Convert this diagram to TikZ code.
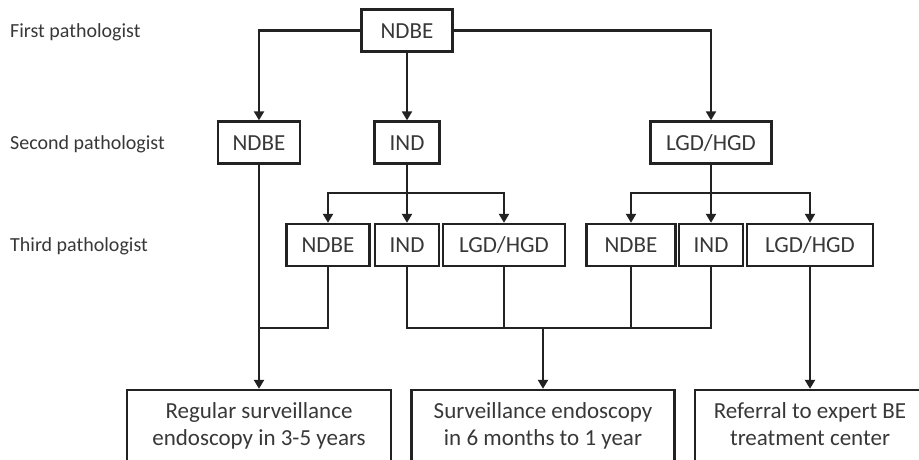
\documentclass[tikz,border=0pt]{standalone}
\usepackage{fontspec}
\setmainfont{Carlito}
\usetikzlibrary{arrows.meta}
\definecolor{txt}{HTML}{383838}
\definecolor{ln}{HTML}{222222}
\begin{document}
\begin{tikzpicture}[x=1pt,y=-1pt,
  box/.style={draw=ln, line width=2.4pt, inner sep=0pt, text=txt, font=\fontsize{23}{27}\selectfont, minimum height=42pt, text height=15pt, text depth=0pt},
  bigbox/.style={draw=ln, line width=2.4pt, inner sep=0pt, text=txt, font=\fontsize{23}{27}\selectfont, align=center, minimum height=74pt},
  lbl/.style={anchor=base west, inner sep=0pt, text=txt, font=\fontsize{20}{24}\selectfont},
  conn/.style={draw=ln, line width=2.2pt},
  arr/.style={conn, -{Triangle[length=9pt,width=10pt]}}]
\useasboundingbox (0,0) rectangle (919,459);
\clip (0,0) rectangle (919,459);
% row labels
\node[lbl] (l1) at (10,37) {First pathologist};
\node[lbl] (l2) at (10,149) {Second pathologist};
\node[lbl] (l3) at (10,251.5) {Third pathologist};
% first
\node[box, minimum width=91pt] (f) at (407,30.5) {NDBE};
% second
\node[box, minimum width=82pt] (sa) at (259,142.5) {NDBE};
\node[box, minimum width=65pt] (sb) at (407,142.5) {IND};
\node[box, minimum width=121pt] (sc) at (711,142.5) {LGD/HGD};
% third
\node[box, minimum width=83pt] (ta) at (328,245) {NDBE};
\node[box, minimum width=64pt] (tb) at (407,245) {IND};
\node[box, minimum width=122pt] (tc) at (504,245) {LGD/HGD};
\node[box, minimum width=89pt] (td) at (631,245) {NDBE};
\node[box, minimum width=64pt] (te) at (711,245) {IND};
\node[box, minimum width=126pt] (tf) at (810,245) {LGD/HGD};
% results
\node[bigbox, minimum width=264pt] (ra) at (259,427) {\strut Regular surveillance\\\strut endoscopy in 3-5 years};
\node[bigbox, minimum width=263pt] (rb) at (543,427) {\strut Surveillance endoscopy\\\strut in 6 months to 1 year};
\node[bigbox, minimum width=230pt] (rc) at (810,427) {\strut Referral to expert BE\\\strut treatment center};
% connectors first -> second
\draw[arr] (f.west) -| (sa.north);
\draw[arr] (f.south) -- (sb.north);
\draw[arr] (f.east) -| (sc.north);
% second -> third
\coordinate (j1) at (407,193);
\coordinate (j2) at (711,193);
\draw[arr] (sb.south) -- (tb.north);
\draw[arr] (j1) -| (ta.north);
\draw[arr] (j1) -| (tc.north);
\draw[arr] (sc.south) -- (te.north);
\draw[arr] (j2) -| (td.north);
\draw[arr] (j2) -| (tf.north);
% to results
\coordinate (m1) at (259,328);
\coordinate (m2) at (407,328);
\coordinate (m3) at (711,328);
\coordinate (m4) at (543,328);
\draw[arr] (sa.south) -- (ra.north);
\draw[conn] (ta.south) |- (m1);
\draw[conn] (tb.south) |- (m3) -- (te.south);
\draw[conn] (tc.south) -- (tc.south |- m2);
\draw[conn] (td.south) -- (td.south |- m2);
\draw[arr] (m4) -- (rb.north);
\draw[arr] (tf.south) -- (rc.north);
\end{tikzpicture}
\end{document}
